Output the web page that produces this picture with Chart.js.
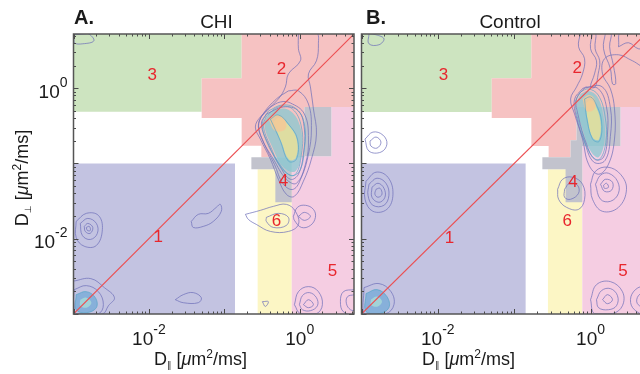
<!DOCTYPE html>
<html>
<head>
<meta charset="utf-8">
<script src="https://cdn.jsdelivr.net/npm/chart.js@4.4.1/dist/chart.umd.min.js"></script>
<style>
  html, body { margin: 0; padding: 0; background: #fff; overflow: hidden; width: 640px; height: 374px; position: relative; }
  canvas { position: absolute; top: 0; }
  #chiChart { left: 0; }
  #controlChart { left: 340px; }
</style>
</head>
<body>
<canvas id="chiChart" width="360" height="374"></canvas>
<canvas id="controlChart" width="320" height="374"></canvas>
<script>
// both axes are log10(D) in um^2/ms
const logMin = -3;
const logMax = 0.72;
const xTickLabels = [-2, 0];
const yTickLabels = [0, -2];
const panelTitles = ['CHI', 'Control'];
const panelLetters = ['A.', 'B.'];
const regionNames = ['1', '2', '3', '4', '5', '6'];
const diagX = [-3, 0.72];
const diagY = [-3, 0.72];

// region outlines, order = regionNames
const chiRegions = [
  [[-3, -1], [-0.858, -1], [-0.858, -3], [-3, -3]],
  [[-0.77, 0.72], [0.72, 0.72], [0.72, -0.249], [0.062, -0.249], [0.062, -0.916], [-0.509, -0.916], [-0.509, -0.765], [-0.77, -0.765], [-0.77, -0.396], [-1.3, -0.396], [-1.3, 0.133], [-0.77, 0.133]],
  [[-3, 0.72], [-0.77, 0.72], [-0.77, 0.133], [-1.3, 0.133], [-1.3, -0.312], [-3, -0.312]],
  [[0.062, -0.249], [0.42, -0.249], [0.42, -0.903], [-0.106, -0.903], [-0.106, -1.516], [-0.323, -1.516], [-0.323, -1.076], [-0.641, -1.076], [-0.641, -0.916], [0.062, -0.916]],
  [[0.42, -0.249], [0.72, -0.249], [0.72, -3], [-0.106, -3], [-0.106, -0.903], [0.42, -0.903]],
  [[-0.558, -1.076], [-0.106, -1.076], [-0.106, -3], [-0.558, -3]]
];
const controlRegions = [
  [[-3, -1], [-0.85, -1], [-0.85, -3], [-3, -3]],
  [[-0.775, 0.72], [0.72, 0.72], [0.72, -0.249], [-0.183, -0.249], [-0.183, -0.69], [-0.261, -0.69], [-0.261, -0.916], [-0.549, -0.916], [-0.549, -0.769], [-0.775, -0.769], [-0.775, -0.396], [-1.294, -0.396], [-1.294, 0.133], [-0.775, 0.133]],
  [[-3, 0.72], [-0.775, 0.72], [-0.775, 0.133], [-1.294, 0.133], [-1.294, -0.316], [-3, -0.316]],
  [[-0.183, -0.249], [0.392, -0.249], [0.392, -0.769], [-0.108, -0.769], [-0.108, -1.516], [-0.327, -1.516], [-0.327, -1.076], [-0.631, -1.076], [-0.631, -0.916], [-0.261, -0.916], [-0.261, -0.69], [-0.183, -0.69]],
  [[0.392, -0.249], [0.72, -0.249], [0.72, -3], [-0.108, -3], [-0.108, -0.769], [0.392, -0.769]],
  [[-0.558, -1.076], [-0.108, -1.076], [-0.108, -3], [-0.558, -3]]
];

const chiLabelX = [-1.876, -0.243, -1.956, -0.216, 0.434, -0.309];
const chiLabelY = [-1.983, 0.257, 0.177, -1.236, -2.436, -1.769];
const controlLabelX = [-1.847, -0.174, -1.926, -0.23, 0.426, -0.304];
const controlLabelY = [-1.99, 0.267, 0.177, -1.245, -2.43, -1.765];

// density peaks (filled levels)
const chiTeal = [
  [[-0.416, -0.343], [-0.469, -0.49], [-0.363, -0.783], [-0.216, -1.049], [-0.057, -1.103], [0.023, -0.836], [0.009, -0.516], [-0.124, -0.303], [-0.309, -0.276]]
];
const chiYellow = [
  [[-0.35, -0.45], [-0.24, -0.72], [-0.14, -0.95], [-0.05, -0.92], [-0.04, -0.68], [-0.15, -0.49], [-0.27, -0.39]]
];
const chiOrange = [
  [[-0.416, -0.41], [-0.323, -0.57], [-0.19, -0.543], [-0.203, -0.41], [-0.309, -0.356]]
];
const chiCorner = [
  [[-2.965, -2.743], [-2.83, -2.703], [-2.71, -2.783], [-2.697, -2.916], [-2.83, -2.983], [-2.965, -2.943]]
];
const chiCornerCore = [
  [[-2.91, -2.81], [-2.83, -2.783], [-2.763, -2.85], [-2.83, -2.916], [-2.91, -2.89]]
];
const controlTeal = [
  [[-0.131, -0.076], [-0.183, -0.223], [-0.105, -0.543], [0, -0.836], [0.105, -0.916], [0.183, -0.703], [0.17, -0.383], [0.092, -0.116], [-0.026, -0.036]]
];
const controlYellow = [
  [[-0.06, -0.2], [-0.04, -0.4], [0.03, -0.66], [0.11, -0.68], [0.13, -0.44], [0.06, -0.22], [0, -0.16]]
];
const controlOrange = [
  [[-0.105, -0.143], [-0.052, -0.303], [0.052, -0.276], [0.052, -0.143], [-0.026, -0.09]]
];
const controlCorner = [
  [[-2.941, -2.729], [-2.797, -2.676], [-2.667, -2.769], [-2.641, -2.916], [-2.771, -2.996], [-2.941, -2.969]]
];
const controlCornerCore = [
  [[-2.876, -2.809], [-2.797, -2.769], [-2.732, -2.836], [-2.797, -2.903], [-2.876, -2.876]]
];

// contour lines
const chiContours = [
  [[-0.017, 0.737], [-0.017, 0.524], [0.009, 0.364], [-0.15, 0.19], [-0.19, 0.017], [-0.283, -0.143], [-0.522, -0.383], [-0.588, -0.516], [-0.522, -0.676], [-0.389, -0.943], [-0.283, -1.21], [-0.177, -1.41], [-0.07, -1.436], [0.049, -1.236], [0.155, -0.943], [0.222, -0.61], [0.182, -0.276], [0.142, 0.017], [0.116, 0.19], [0.222, 0.364], [0.248, 0.59], [0.222, 0.737]],
  [[-0.15, -0.036], [-0.309, -0.143], [-0.495, -0.356], [-0.548, -0.516], [-0.469, -0.743], [-0.336, -1.01], [-0.216, -1.276], [-0.084, -1.343], [0.023, -1.183], [0.116, -0.876], [0.155, -0.543], [0.116, -0.21], [-0.017, -0.036]],
  [[-0.389, -0.249], [-0.535, -0.436], [-0.509, -0.65], [-0.349, -0.943], [-0.177, -1.21], [-0.044, -1.263], [0.076, -1.01], [0.116, -0.676], [0.062, -0.343], [-0.124, -0.196], [-0.256, -0.183]],
  [[-0.442, -0.343], [-0.509, -0.476], [-0.416, -0.743], [-0.256, -1.049], [-0.124, -1.21], [-0.017, -1.143], [0.049, -0.876], [0.062, -0.543], [-0.017, -0.303], [-0.216, -0.249]],
  [[-0.72, -1.676], [-0.522, -1.623], [-0.349, -1.57], [-0.177, -1.543], [-0.057, -1.636], [-0.017, -1.81], [-0.15, -1.903], [-0.389, -1.903], [-0.575, -1.81], [-0.681, -1.743]],
  [[-0.442, -1.716], [-0.283, -1.663], [-0.15, -1.716], [-0.177, -1.823], [-0.349, -1.85], [-0.442, -1.77]],
  [[-0.084, -1.703], [-0.03, -1.583], [0.076, -1.556], [0.182, -1.61], [0.208, -1.716], [0.142, -1.823], [0.023, -1.85], [-0.07, -1.756]],
  [[-0.017, -1.703], [0.062, -1.65], [0.142, -1.703], [0.062, -1.756]],
  [[-0.07, -2.876], [-0.017, -2.703], [0.116, -2.636], [0.248, -2.703], [0.301, -2.876], [0.222, -2.996], [0.009, -2.996]],
  [[-0.004, -2.876], [0.036, -2.756], [0.129, -2.716], [0.222, -2.783], [0.235, -2.89], [0.142, -2.956], [0.036, -2.943]],
  [[0.049, -2.876], [0.116, -2.81], [0.182, -2.876], [0.116, -2.916]],
  [[0.73, -2.676], [0.58, -2.703], [0.54, -2.836], [0.58, -2.97], [0.73, -3.0]],
  [[0.73, -2.743], [0.634, -2.77], [0.62, -2.863], [0.673, -2.943], [0.73, -2.943]],
  [[-2.99, -2.676], [-2.83, -2.623], [-2.67, -2.703], [-2.604, -2.876], [-2.67, -2.996], [-2.963, -2.996], [-3.0, -2.81]],
  [[-3.0, -2.563], [-2.77, -2.53], [-2.59, -2.65], [-2.457, -2.783], [-2.537, -2.89], [-2.617, -3.0], [-3.05, -3.0]],
  [[-2.965, -1.77], [-2.83, -1.663], [-2.67, -1.69], [-2.617, -1.876], [-2.697, -2.09], [-2.857, -2.1], [-2.965, -1.983]],
  [[-2.91, -1.796], [-2.81, -1.73], [-2.697, -1.796], [-2.684, -1.93], [-2.777, -2.01], [-2.883, -1.956]],
  [[-2.857, -1.836], [-2.81, -1.796], [-2.744, -1.85], [-2.78, -1.93], [-2.844, -1.903]],
  [[-2.83, -1.85], [-2.79, -1.836], [-2.777, -1.89], [-2.817, -1.89]],
  [[-1.438, -1.77], [-1.345, -1.676], [-1.212, -1.663], [-1.106, -1.583], [-1.053, -1.543], [-1.04, -1.636], [-1.146, -1.77], [-1.279, -1.836], [-1.412, -1.85]],
  [[-1.65, -2.81], [-1.544, -2.743], [-1.412, -2.716], [-1.305, -2.783], [-1.345, -2.85], [-1.544, -2.85]],
  [[-2.99, 0.71], [-2.81, 0.724], [-2.73, 0.63], [-2.877, 0.59], [-2.99, 0.604]],
  [[-0.495, -2.836], [-0.416, -2.836], [-0.456, -2.9]]
];
const chiInnerContours = [
  [[-0.416, -0.303], [-0.495, -0.463], [-0.442, -0.703], [-0.283, -0.983], [-0.124, -1.156], [-0.004, -1.103], [0.062, -0.81], [0.062, -0.476], [-0.044, -0.276], [-0.229, -0.223]],
  [[-0.442, -0.37], [-0.482, -0.503], [-0.389, -0.769], [-0.229, -1.076], [-0.07, -1.156], [0.023, -0.876], [0.023, -0.516], [-0.097, -0.276], [-0.283, -0.249]],
  [[-0.389, -0.41], [-0.256, -0.703], [-0.15, -0.969], [-0.044, -0.943], [-0.03, -0.676], [-0.15, -0.476], [-0.283, -0.356]],
  [[-2.965, -2.743], [-2.83, -2.703], [-2.71, -2.783], [-2.697, -2.916], [-2.83, -2.983], [-2.965, -2.943]]
];
const controlContours = [
  [[-0.131, 0.737], [-0.157, 0.55], [-0.078, 0.391], [-0.105, 0.19], [-0.183, 0.017], [-0.261, -0.143], [-0.209, -0.343], [-0.105, -0.676], [-0.026, -1.01], [0.105, -1.143], [0.235, -1.01], [0.314, -0.676], [0.314, -0.276], [0.261, -0.01], [0.157, 0.19], [0.183, 0.391], [0.366, 0.444], [0.549, 0.364], [0.732, 0.284], [0.75, 0.75]],
  [[-0.065, 0.017], [-0.183, -0.143], [-0.157, -0.383], [-0.052, -0.743], [0.052, -0.943], [0.17, -0.916], [0.222, -0.61], [0.209, -0.249], [0.105, -0.01]],
  [[-0.1, 0.0], [-0.21, -0.15], [-0.18, -0.4], [-0.08, -0.71], [0.04, -0.98], [0.19, -0.96], [0.26, -0.64], [0.26, -0.26], [0.15, 0.02]],
  [[0.026, 0.737], [0, 0.524], [0.078, 0.364], [0.052, 0.19], [0, 0.017], [0.06, 0.017], [0.1, 0.19], [0.12, 0.364], [0.06, 0.524], [0.07, 0.737]],
  [[0.196, 0.737], [0.17, 0.524], [0.261, 0.257], [0.288, 0.057], [0.33, 0.06], [0.3, 0.3], [0.25, 0.55], [0.27, 0.737]],
  [[0.366, 0.55], [0.497, 0.604], [0.627, 0.524], [0.732, 0.55], [0.75, 0.75], [0.4, 0.75]],
  [[-0.431, -1.343], [-0.366, -1.21], [-0.235, -1.183], [-0.105, -1.276], [-0.078, -1.476], [-0.157, -1.61], [-0.314, -1.583], [-0.418, -1.476]],
  [[-0.34, -1.343], [-0.275, -1.263], [-0.17, -1.29], [-0.157, -1.396], [-0.261, -1.476], [-0.34, -1.449]],
  [[0, -1.276], [0.065, -1.103], [0.222, -1.049], [0.392, -1.143], [0.471, -1.343], [0.366, -1.583], [0.157, -1.636], [0.026, -1.476]],
  [[0.065, -1.276], [0.131, -1.156], [0.235, -1.13], [0.353, -1.236], [0.366, -1.396], [0.261, -1.503], [0.131, -1.476]],
  [[0.131, -1.276], [0.196, -1.21], [0.288, -1.25], [0.275, -1.356], [0.183, -1.37]],
  [[0.17, -1.29], [0.209, -1.263], [0.235, -1.316], [0.183, -1.33]],
  [[0, -2.81], [0.078, -2.61], [0.261, -2.57], [0.418, -2.703], [0.418, -2.89], [0.288, -2.996], [0.052, -2.996]],
  [[0.078, -2.81], [0.144, -2.689], [0.261, -2.663], [0.353, -2.756], [0.34, -2.89], [0.235, -2.943], [0.105, -2.916]],
  [[0.157, -2.81], [0.222, -2.743], [0.288, -2.81], [0.222, -2.863]],
  [[0.732, -2.61], [0.588, -2.676], [0.523, -2.81], [0.575, -2.943], [0.732, -3.0]],
  [[0.732, -2.703], [0.627, -2.756], [0.614, -2.863], [0.732, -2.916]],
  [[-2.967, -2.649], [-2.771, -2.596], [-2.614, -2.703], [-2.575, -2.876], [-2.68, -2.996], [-2.967, -2.996]],
  [[-2.941, -1.236], [-2.81, -1.116], [-2.654, -1.183], [-2.588, -1.409], [-2.667, -1.609], [-2.85, -1.636], [-2.954, -1.476]],
  [[-2.902, -1.276], [-2.797, -1.196], [-2.68, -1.263], [-2.641, -1.423], [-2.706, -1.556], [-2.85, -1.556], [-2.915, -1.423]],
  [[-2.863, -1.316], [-2.784, -1.263], [-2.706, -1.329], [-2.693, -1.449], [-2.771, -1.516], [-2.863, -1.449]],
  [[-2.81, -1.343], [-2.758, -1.329], [-2.732, -1.409], [-2.784, -1.449], [-2.824, -1.409]],
  [[-2.954, -0.676], [-2.85, -0.583], [-2.719, -0.623], [-2.667, -0.743], [-2.745, -0.849], [-2.902, -0.836]],
  [[-2.889, -0.703], [-2.81, -0.649], [-2.745, -0.716], [-2.797, -0.796], [-2.876, -0.769]],
  [[-2.902, 0.724], [-2.81, 0.71], [-2.706, 0.657], [-2.771, 0.577], [-2.902, 0.59]]
];
const controlInnerContours = [
  [[-0.131, -0.05], [-0.2, -0.2], [-0.12, -0.56], [-0.01, -0.86], [0.11, -0.95], [0.2, -0.72], [0.19, -0.37], [0.1, -0.09], [-0.03, -0.01]],
  [[-0.078, -0.143], [-0.052, -0.383], [0.026, -0.676], [0.118, -0.703], [0.144, -0.436], [0.065, -0.196], [0, -0.116]],
  [[-2.941, -2.729], [-2.797, -2.676], [-2.667, -2.769], [-2.641, -2.916], [-2.771, -2.996], [-2.941, -2.969]]
];

const regionColors = ['#c3c3e1', '#f6c2c2', '#cde4c0', '#c2c3cd', '#f5cde2', '#fcf6c5'];
const regionDraw = [0, 2, 1, 5, 4, 3];

function pts(arr) {
  const out = arr.map(p => ({ x: p[0], y: p[1] }));
  out.push({ x: arr[0][0], y: arr[0][1] });
  return out;
}

function polyDs(arr, fillColor, tension) {
  return { data: pts(arr), fill: 'shape', backgroundColor: fillColor, borderWidth: 0, borderColor: 'rgba(0,0,0,0)', pointRadius: 0, tension: tension };
}

function lineDs(arr, color, width, tension) {
  return { data: pts(arr), fill: false, borderColor: color, borderWidth: width, pointRadius: 0, tension: tension };
}

function drawPieces(ctx, pieces, x, y, align) {
  let w = 0;
  pieces.forEach(p => { ctx.font = p.font; p.w = ctx.measureText(p.text).width; w += p.w; });
  let cx = align === 'center' ? x - w / 2 : (align === 'right' ? x - w : x);
  pieces.forEach(p => { ctx.font = p.font; ctx.fillText(p.text, cx, y + (p.dy || 0)); cx += p.w; });
}

const FONT = '"Liberation Sans", Arial, sans-serif';

function powerLabel(n) {
  return [
    { text: '10', font: '19px ' + FONT },
    { text: n < 0 ? '-' + (-n) : String(n), font: '14px ' + FONT, dy: -11 }
  ];
}

function unitTitle(sub) {
  return [
    { text: 'D', font: '18px ' + FONT },
    { text: sub, font: '9px "DejaVu Sans", sans-serif', dy: 3 },
    { text: ' [', font: '18px ' + FONT },
    { text: 'μ', font: 'italic 18px ' + FONT },
    { text: 'm', font: '18px ' + FONT },
    { text: '2', font: '12px ' + FONT, dy: -7 },
    { text: '/ms]', font: '18px ' + FONT }
  ];
}

function makePanel(id, idx, regions, labelX, labelY, blob, contours, inner, look) {
  const ds = [];
  regionDraw.forEach(r => ds.push(polyDs(regions[r], regionColors[r], 0)));
  blob.teal.forEach(a => ds.push(polyDs(a, 'rgba(135,200,208,0.75)', 0.4)));
  blob.yellow.forEach(a => ds.push(polyDs(a, 'rgba(236,226,150,0.8)', 0.4)));
  blob.orange.forEach(a => ds.push(polyDs(a, 'rgba(245,200,150,0.85)', 0.4)));
  blob.corner.forEach(a => ds.push(polyDs(a, 'rgba(115,170,215,0.75)', 0.4)));
  blob.cornerCore.forEach(a => ds.push(polyDs(a, 'rgba(165,215,215,0.9)', 0.4)));
  contours.forEach(a => ds.push(lineDs(a, 'rgba(110,112,185,0.8)', 0.9, 0.4)));
  inner.forEach(a => ds.push(lineDs(a, 'rgba(85,165,200,0.75)', 0.9, 0.4)));
  ds.push({ data: diagX.map((v, i) => ({ x: v, y: diagY[i] })), fill: false, borderColor: '#ec4f52', borderWidth: 1.1, pointRadius: 0, tension: 0 });
  ds.forEach((d, i) => { d.order = -i; });

  const decor = {
    id: 'decor' + idx,
    afterDatasetsDraw(chart) {
      const ctx = chart.ctx;
      const xs = chart.scales.x, ys = chart.scales.y;
      const a = chart.chartArea;
      ctx.save();
      // region numbers
      ctx.fillStyle = '#e8262d';
      ctx.font = '17px ' + FONT;
      ctx.textAlign = 'center';
      ctx.textBaseline = 'middle';
      regionNames.forEach((t, i) => ctx.fillText(t, xs.getPixelForValue(labelX[i]), ys.getPixelForValue(labelY[i])));
      // frame and inward ticks
      ctx.strokeStyle = '#4a4a4a';
      ctx.lineWidth = 1;
      ctx.beginPath();
      for (let n = -3; n <= 0; n++) {
        for (let k = 1; k <= 9; k++) {
          const v = n + Math.log10(k);
          if (v < logMin - 1e-6 || v > logMax) continue;
          const len = k === 1 ? 5 : 2.5;
          const px = Math.round(xs.getPixelForValue(v)) + 0.5;
          const py = Math.round(ys.getPixelForValue(v)) + 0.5;
          ctx.moveTo(px, a.bottom); ctx.lineTo(px, a.bottom - len);
          ctx.moveTo(px, a.top); ctx.lineTo(px, a.top + len);
          ctx.moveTo(a.left, py); ctx.lineTo(a.left + len, py);
          ctx.moveTo(a.right, py); ctx.lineTo(a.right - len, py);
        }
      }
      ctx.stroke();
      ctx.strokeStyle = '#555';
      ctx.lineWidth = 1.5;
      ctx.strokeRect(a.left, a.top, a.right - a.left, a.bottom - a.top);
      // tick labels
      ctx.fillStyle = '#1a1a1a';
      ctx.textAlign = 'left';
      ctx.textBaseline = 'alphabetic';
      xTickLabels.forEach(n => drawPieces(ctx, powerLabel(n), xs.getPixelForValue(n), a.bottom + 31, 'center'));
      if (look.yLabels) {
        yTickLabels.forEach(n => drawPieces(ctx, powerLabel(n), a.left - 6, ys.getPixelForValue(n) + 9.5, 'right'));
        ctx.save();
        ctx.translate(27.5, 178);
        ctx.rotate(-Math.PI / 2);
        drawPieces(ctx, unitTitle('⊥'), 0, 0, 'center');
        ctx.restore();
      }
      drawPieces(ctx, unitTitle('∥'), look.xTitleLeft, 365, 'left');
      // panel titles
      ctx.font = '19px ' + FONT;
      ctx.textAlign = 'center';
      ctx.fillText(panelTitles[idx], look.titleX, 28);
      ctx.font = 'bold 20px ' + FONT;
      ctx.textAlign = 'left';
      ctx.fillText(panelLetters[idx], look.letterX, 23.5);
      ctx.restore();
    }
  };

  return new Chart(document.getElementById(id), {
    type: 'line',
    data: { datasets: ds },
    options: {
      responsive: false,
      animation: false,
      devicePixelRatio: 1,
      events: [],
      layout: { padding: look.padding },
      scales: {
        x: { type: 'linear', min: logMin, max: logMax, display: false },
        y: { type: 'linear', min: logMin, max: logMax, display: false }
      },
      plugins: { legend: { display: false }, tooltip: { enabled: false } }
    },
    plugins: [decor]
  });
}

const chiChart = makePanel('chiChart', 0, chiRegions, chiLabelX, chiLabelY,
  { teal: chiTeal, yellow: chiYellow, orange: chiOrange, corner: chiCorner, cornerCore: chiCornerCore },
  chiContours, chiInnerContours,
  { padding: { left: 73.5, right: 6, top: 34, bottom: 60 }, yLabels: true, xTitleLeft: 154, titleX: 216.5, letterX: 74 });
const controlChart = makePanel('controlChart', 1, controlRegions, controlLabelX, controlLabelY,
  { teal: controlTeal, yellow: controlYellow, orange: controlOrange, corner: controlCorner, cornerCore: controlCornerCore },
  controlContours, controlInnerContours,
  { padding: { left: 21.5, right: 14.5, top: 34, bottom: 60 }, yLabels: false, xTitleLeft: 82, titleX: 170, letterX: 26 });
</script>
</body>
</html>
